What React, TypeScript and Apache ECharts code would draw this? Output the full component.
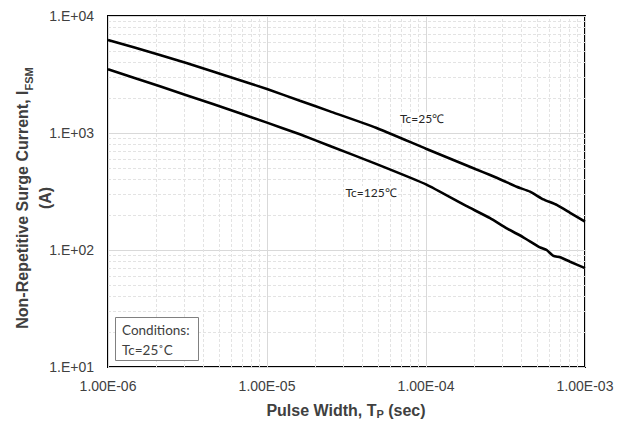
import React, { useEffect, useRef } from "react";
import * as echarts from "echarts";

// Pulse width (s) and surge current (A) for Tc = 25°C
const pulseWidth25 = [1e-6, 2.12e-6, 4.57e-6, 1e-5, 1.61e-5, 2.49e-5, 4.85e-5, 1e-4, 2.06e-4, 2.53e-4, 3.06e-4, 3.72e-4, 4.51e-4, 5.47e-4, 6.64e-4, 8.06e-4, 1e-3];
const current25 = [6240, 4650, 3360, 2377, 1885, 1530, 1110, 734, 490, 438, 391, 347, 315, 271, 243, 208, 175];

// Pulse width (s) and surge current (A) for Tc = 125°C
const pulseWidth125 = [1e-6, 2.12e-6, 4.57e-6, 1e-5, 1.61e-5, 2.49e-5, 4.85e-5, 1e-4, 1.79e-4, 2.53e-4, 3.22e-4, 4.09e-4, 5.21e-4, 5.74e-4, 6.33e-4, 6.97e-4, 8.06e-4, 1e-3];
const current125 = [3500, 2510, 1766, 1227, 975, 775, 545, 364, 238, 187, 153, 128.5, 105.4, 100, 88.9, 86.7, 79.4, 70];

const xTickLabels = ["1.00E-06", "1.00E-05", "1.00E-04", "1.00E-03"];
const yTickLabels = ["1.E+01", "1.E+02", "1.E+03", "1.E+04"];

const seriesLabels = ["Tc=25℃", "Tc=125℃"];
const conditionsLines = ["Conditions:", "Tc=25˚C"];

export default function App() {
  const ref = useRef<HTMLDivElement>(null);

  useEffect(() => {
    document.body.style.margin = "0";
    const chart = echarts.init(ref.current!, null, { renderer: "svg", width: 630, height: 426 });

    const xMin = 1e-6, xMax = 1e-3, yMin = 10, yMax = 1e4;
    const minorX: number[] = [];
    for (let d = -6; d < -3; d++) for (let k = 2; k <= 9; k++) minorX.push(k * Math.pow(10, d));
    const minorY: number[] = [];
    for (let d = 1; d < 4; d++) for (let k = 2; k <= 9; k++) minorY.push(k * Math.pow(10, d));

    const tickFont = { fontFamily: "Liberation Sans, Arial, sans-serif", fontSize: 14, color: "#404040" };
    const titleFont = "Liberation Sans, Arial, sans-serif";

    chart.setOption({
      animation: false,
      grid: { left: 108, right: 45, top: 16, bottom: 59, show: true, borderColor: "#000", borderWidth: 2, backgroundColor: "transparent" },
      xAxis: {
        type: "log",
        logBase: 10,
        min: xMin,
        max: xMax,
        interval: 1,
        axisLine: { show: false },
        axisTick: { show: false },
        axisLabel: {
          ...tickFont,
          margin: 12,
          formatter: (v: number) => xTickLabels[Math.round(Math.log10(v)) + 6],
        },
        splitLine: { show: true, lineStyle: { color: "#d9d9d9", width: 1 } },
      },
      yAxis: {
        type: "log",
        logBase: 10,
        min: yMin,
        max: yMax,
        interval: 1,
        axisLine: { show: false },
        axisTick: { show: false },
        axisLabel: {
          ...tickFont,
          margin: 14,
          formatter: (v: number) => yTickLabels[Math.round(Math.log10(v)) - 1],
        },
        splitLine: { show: true, lineStyle: { color: "#d9d9d9", width: 1 } },
      },
      series: [
        {
          type: "line",
          data: [],
          silent: true,
          z: 1,
          markLine: {
            z: 1,
            silent: true,
            symbol: ["none", "none"],
            label: { show: false },
            lineStyle: { color: "#e3e3e3", type: [3, 2], width: 1 },
            emphasis: { disabled: true },
            data: [
              ...minorX.map((v) => [{ coord: [v, yMin] }, { coord: [v, yMax] }]),
              ...minorY.map((v) => [{ coord: [xMin, v] }, { coord: [xMax, v] }]),
            ],
          },
        },
        {
          name: seriesLabels[0],
          type: "line",
          z: 3,
          showSymbol: false,
          symbol: "none",
          smooth: 0.15,
          lineStyle: { color: "#000", width: 2.6 },
          data: pulseWidth25.map((t, i) => [t, current25[i]]),
        },
        {
          name: seriesLabels[1],
          type: "line",
          z: 3,
          showSymbol: false,
          symbol: "none",
          smooth: 0.15,
          lineStyle: { color: "#000", width: 2.6 },
          data: pulseWidth125.map((t, i) => [t, current125[i]]),
        },
      ],
      graphic: [
        {
          type: "text",
          x: 34,
          y: 198,
          rotation: Math.PI / 2,
          style: {
            text: "Non-Repetitive Surge Current, I{sub|FSM}\n(A)",
            align: "center",
            verticalAlign: "middle",
            fontFamily: titleFont,
            fontSize: 16,
            fontWeight: "bold",
            fill: "#404040",
            lineHeight: 23,
            rich: {
              sub: { fontFamily: titleFont, fontSize: 11, fontWeight: "bold", fill: "#404040", verticalAlign: "bottom", padding: [8, 0, 0, 0] },
            },
          },
        },
        {
          type: "text",
          x: 346,
          y: 410,
          style: {
            text: "Pulse Width, T{sub|P} (sec)",
            align: "center",
            verticalAlign: "middle",
            fontFamily: titleFont,
            fontSize: 16,
            fontWeight: "bold",
            fill: "#404040",
            rich: {
              sub: { fontFamily: titleFont, fontSize: 11, fontWeight: "bold", fill: "#404040", verticalAlign: "bottom", padding: [8, 0, 0, 0] },
            },
          },
        },
        {
          type: "text",
          x: 422,
          y: 118,
          z: 10,
          style: { text: seriesLabels[0], align: "center", verticalAlign: "middle", fontFamily: "Lato, Open Sans, sans-serif", fontSize: 12, fill: "#262626", backgroundColor: "#fff" },
        },
        {
          type: "text",
          x: 371,
          y: 192,
          z: 10,
          style: { text: seriesLabels[1], align: "center", verticalAlign: "middle", fontFamily: "Lato, Open Sans, sans-serif", fontSize: 12, fill: "#262626", backgroundColor: "#fff" },
        },
        {
          type: "rect",
          shape: { x: 115.5, y: 317.5, width: 83, height: 43 },
          style: { fill: "#fff", stroke: "#808080", lineWidth: 1 },
          z: 10,
        },
        {
          type: "text",
          x: 122,
          y: 330,
          z: 11,
          style: { text: conditionsLines[0], verticalAlign: "middle", fontFamily: "Lato, Open Sans, sans-serif", fontSize: 13.5, fill: "#404040" },
        },
        {
          type: "text",
          x: 122,
          y: 350,
          z: 11,
          style: { text: conditionsLines[1], verticalAlign: "middle", fontFamily: "Lato, Open Sans, sans-serif", fontSize: 13.5, fill: "#404040" },
        },
      ],
    });

    return () => chart.dispose();
  }, []);

  return <div ref={ref} style={{ width: 630, height: 426 }} />;
}
